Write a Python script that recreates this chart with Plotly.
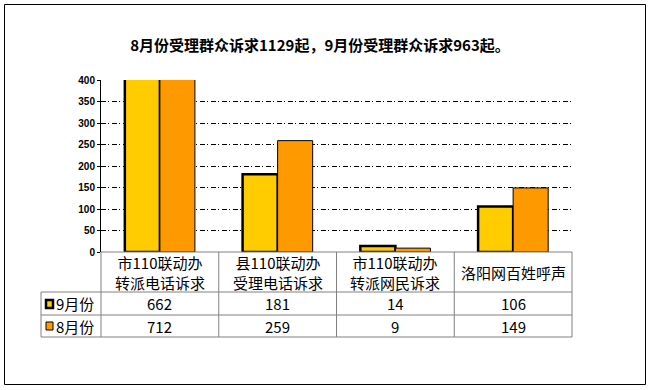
import plotly.graph_objects as go

# ---- data ----
categories = ["市110联动办<br>转派电话诉求", "县110联动办<br>受理电话诉求",
              "市110联动办<br>转派网民诉求", "洛阳网百姓呼声"]
series_names = ["9月份", "8月份"]
sep_values = [662, 181, 14, 106]
aug_values = [712, 259, 9, 149]
y_ticks = [0, 50, 100, 150, 200, 250, 300, 350, 400]
title_text = "8月份受理群众诉求1129起，9月份受理群众诉求963起。"

# ---- layout geometry (pixels) ----
W, H = 651, 390
L, R, T, B = 101, 79, 80, 138
pw, ph = W - L - R, H - T - B


def fx(x):
    return (x - L) / pw


def fy(y):
    return (H - B - y) / ph


YELLOW = "#FFCC00"
ORANGE = "#FF9900"
GRAY = "#808080"
CJK = "Noto Sans CJK SC"

idx = list(range(len(categories)))

fig = go.Figure()
fig.add_trace(go.Bar(x=idx, y=sep_values, name=series_names[0],
                     marker=dict(color=YELLOW, line=dict(color="black", width=2.5))))
fig.add_trace(go.Bar(x=idx, y=aug_values, name=series_names[1],
                     marker=dict(color=ORANGE, line=dict(color="black", width=1))))

shapes = []
# outer border
shapes.append(dict(type="rect", xref="paper", yref="paper",
                   x0=fx(4.5), x1=fx(645.5), y0=fy(384.5), y1=fy(4.5),
                   line=dict(color="black", width=1)))
# table horizontal lines
row_y = [252, 292, 315, 337]
for i, yy in enumerate(row_y):
    x0 = L if i == 0 else 41
    shapes.append(dict(type="line", xref="paper", yref="paper",
                       x0=fx(x0), x1=fx(W - R), y0=fy(yy), y1=fy(yy),
                       line=dict(color=GRAY, width=1)))
# table vertical lines
shapes.append(dict(type="line", xref="paper", yref="paper",
                   x0=fx(41), x1=fx(41), y0=fy(292), y1=fy(337),
                   line=dict(color=GRAY, width=1)))
for k in range(len(categories) + 1):
    xx = L + k * pw / len(categories)
    shapes.append(dict(type="line", xref="paper", yref="paper",
                       x0=fx(xx), x1=fx(xx), y0=fy(252), y1=fy(337),
                       line=dict(color=GRAY, width=1)))
# legend keys in table
shapes.append(dict(type="rect", xref="paper", yref="paper",
                   x0=fx(46), x1=fx(53), y0=fy(308), y1=fy(300),
                   fillcolor=YELLOW, line=dict(color="black", width=2.5)))
shapes.append(dict(type="rect", xref="paper", yref="paper",
                   x0=fx(46), x1=fx(53), y0=fy(330), y1=fy(322),
                   fillcolor=ORANGE, line=dict(color="black", width=1)))

annotations = []
for i, c in enumerate(categories):
    annotations.append(dict(x=i, y=fy(272), xref="x", yref="paper", text=c,
                            showarrow=False, xanchor="center", yanchor="middle",
                            font=dict(family=CJK, size=15, color="black")))
    annotations.append(dict(x=i, y=fy(303.5), xref="x", yref="paper", text=str(sep_values[i]),
                            showarrow=False, xanchor="center", yanchor="middle",
                            font=dict(family=CJK, size=15, color="black")))
    annotations.append(dict(x=i, y=fy(326), xref="x", yref="paper", text=str(aug_values[i]),
                            showarrow=False, xanchor="center", yanchor="middle",
                            font=dict(family=CJK, size=15, color="black")))
for j, (name, yy) in enumerate(zip(series_names, [303.5, 326])):
    annotations.append(dict(x=fx(54), y=fy(yy), xref="paper", yref="paper", text=name,
                            showarrow=False, xanchor="left", yanchor="middle",
                            font=dict(family=CJK, size=15, color="black")))

fig.update_layout(
    width=W, height=H,
    margin=dict(l=L, r=R, t=T, b=B),
    paper_bgcolor="white", plot_bgcolor="white",
    barmode="group", bargap=0.405, bargroupgap=0,
    showlegend=False,
    title=dict(text=title_text, x=320 / W, xanchor="center",
               y=1 - 46 / H, yanchor="middle", yref="container",
               font=dict(family=CJK, size=15, color="black", weight="bold")),
    xaxis=dict(range=[-0.5, len(categories) - 0.5], showticklabels=False,
               showgrid=False, zeroline=False, showline=False, fixedrange=True),
    yaxis=dict(range=[0, 400], tickvals=y_ticks, showgrid=True,
               gridcolor="black", gridwidth=1, griddash="5px,2px,1px,3px",
               zeroline=False, showline=True, linecolor="black", linewidth=1,
               ticks="outside", ticklen=3, tickcolor="black",
               tickfont=dict(family="Liberation Sans", size=10, color="black", weight="bold")),
    shapes=shapes,
    annotations=annotations,
)

fig.write_html("out.html", config={"displayModeBar": False},
               post_script="document.body.style.margin='0';document.body.style.overflow='hidden';")
